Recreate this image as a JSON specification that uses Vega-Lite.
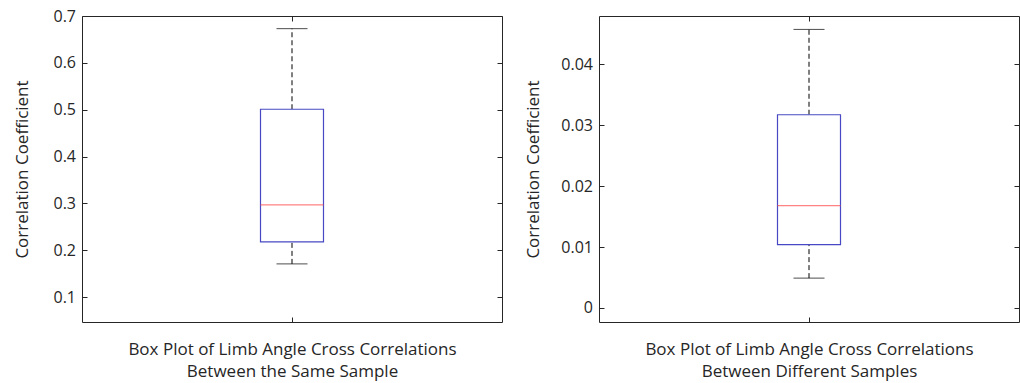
{
  "$schema": "https://vega.github.io/schema/vega-lite/v6.json",
  "padding": {"left": 13, "top": 7, "right": 0, "bottom": 12},
  "background": "white",
  "bounds": "flush",
  "spacing": 97,
  "config": {
    "font": "Open Sans",
    "view": {"stroke": "#262626", "strokeWidth": 1},
    "axis": {
      "labelFont": "Open Sans", "titleFont": "Open Sans",
      "labelFontSize": 16, "titleFontSize": 17,
      "labelColor": "#262626", "titleColor": "#262626",
      "titleFontWeight": "normal", "tickColor": "#262626",
      "domain": false, "grid": false, "offset": -5, "tickSize": 5
    }
  },
  "hconcat": [
    {
      "width": 420, "height": 306,
      "data": {"values": [{"g": "a", "lower": 0.171, "q1": 0.218, "median": 0.297, "q3": 0.501, "upper": 0.673}]},
      "resolve": {"axis": {"x": "independent", "y": "independent"}},
      "layer": [
        {"mark": {"type": "rule", "color": "black", "strokeDash": [5, 3], "strokeWidth": 1},
         "encoding": {
           "x": {"field": "g", "type": "nominal", "scale": {"type": "point", "padding": 0.5},
             "axis": {"orient": "bottom", "labels": false, "title": ["Box Plot of Limb Angle Cross Correlations", "Between the Same Sample"], "titlePadding": 19, "titleLineHeight": 22}},
           "y": {"field": "lower", "type": "quantitative", "scale": {"domain": [0.047, 0.7], "nice": false, "zero": false},
             "axis": {"orient": "left", "values": [0.1, 0.2, 0.3, 0.4, 0.5, 0.6, 0.7], "format": ".1f", "labelPadding": 6.5, "title": "Correlation Coefficient", "titlePadding": 21.5}},
           "y2": {"field": "q1"}}},
        {"mark": {"type": "tick", "opacity": 0},
         "encoding": {
           "x": {"field": "g", "type": "nominal", "axis": {"orient": "top", "labels": false, "title": null}},
           "y": {"field": "median", "type": "quantitative", "axis": {"orient": "right", "values": [0.1, 0.2, 0.3, 0.4, 0.5, 0.6, 0.7], "labels": false, "title": null}}}},
        {"mark": {"type": "rule", "color": "black", "strokeDash": [5, 3], "strokeWidth": 1},
         "encoding": {"x": {"field": "g", "type": "nominal", "axis": null}, "y": {"field": "q3", "type": "quantitative", "axis": null}, "y2": {"field": "upper"}}},
        {"mark": {"type": "tick", "color": "black", "size": 31, "thickness": 1},
         "encoding": {"x": {"field": "g", "type": "nominal", "axis": null}, "y": {"field": "lower", "type": "quantitative", "axis": null}}},
        {"mark": {"type": "tick", "color": "black", "size": 31, "thickness": 1},
         "encoding": {"x": {"field": "g", "type": "nominal", "axis": null}, "y": {"field": "upper", "type": "quantitative", "axis": null}}},
        {"mark": {"type": "bar", "size": 63, "fill": "white", "stroke": "#4848c4", "strokeWidth": 1.2},
         "encoding": {"x": {"field": "g", "type": "nominal", "axis": null}, "y": {"field": "q1", "type": "quantitative", "axis": null}, "y2": {"field": "q3"}}},
        {"mark": {"type": "tick", "color": "#ff4d4d", "size": 63, "thickness": 1.2},
         "encoding": {"x": {"field": "g", "type": "nominal", "axis": null}, "y": {"field": "median", "type": "quantitative", "axis": null}}}
      ]
    },
    {
      "width": 420, "height": 306,
      "data": {"values": [{"g": "a", "lower": 0.0049, "q1": 0.0104, "median": 0.0168, "q3": 0.0317, "upper": 0.0457}]},
      "resolve": {"axis": {"x": "independent", "y": "independent"}},
      "layer": [
        {"mark": {"type": "rule", "color": "black", "strokeDash": [5, 3], "strokeWidth": 1},
         "encoding": {
           "x": {"field": "g", "type": "nominal", "scale": {"type": "point", "padding": 0.5},
             "axis": {"orient": "bottom", "labels": false, "title": ["Box Plot of Limb Angle Cross Correlations", "Between Different Samples"], "titlePadding": 19, "titleLineHeight": 22}},
           "y": {"field": "lower", "type": "quantitative", "scale": {"domain": [-0.0023, 0.0479], "nice": false, "zero": false},
             "axis": {"orient": "left", "values": [0, 0.01, 0.02, 0.03, 0.04], "format": "~g", "labelPadding": 6.5, "title": "Correlation Coefficient", "titlePadding": 18}},
           "y2": {"field": "q1"}}},
        {"mark": {"type": "tick", "opacity": 0},
         "encoding": {
           "x": {"field": "g", "type": "nominal", "axis": {"orient": "top", "labels": false, "title": null}},
           "y": {"field": "median", "type": "quantitative", "axis": {"orient": "right", "values": [0, 0.01, 0.02, 0.03, 0.04], "labels": false, "title": null}}}},
        {"mark": {"type": "rule", "color": "black", "strokeDash": [5, 3], "strokeWidth": 1},
         "encoding": {"x": {"field": "g", "type": "nominal", "axis": null}, "y": {"field": "q3", "type": "quantitative", "axis": null}, "y2": {"field": "upper"}}},
        {"mark": {"type": "tick", "color": "black", "size": 31, "thickness": 1},
         "encoding": {"x": {"field": "g", "type": "nominal", "axis": null}, "y": {"field": "lower", "type": "quantitative", "axis": null}}},
        {"mark": {"type": "tick", "color": "black", "size": 31, "thickness": 1},
         "encoding": {"x": {"field": "g", "type": "nominal", "axis": null}, "y": {"field": "upper", "type": "quantitative", "axis": null}}},
        {"mark": {"type": "bar", "size": 63, "fill": "white", "stroke": "#4848c4", "strokeWidth": 1.2},
         "encoding": {"x": {"field": "g", "type": "nominal", "axis": null}, "y": {"field": "q1", "type": "quantitative", "axis": null}, "y2": {"field": "q3"}}},
        {"mark": {"type": "tick", "color": "#ff4d4d", "size": 63, "thickness": 1.2},
         "encoding": {"x": {"field": "g", "type": "nominal", "axis": null}, "y": {"field": "median", "type": "quantitative", "axis": null}}}
      ]
    }
  ]
}
